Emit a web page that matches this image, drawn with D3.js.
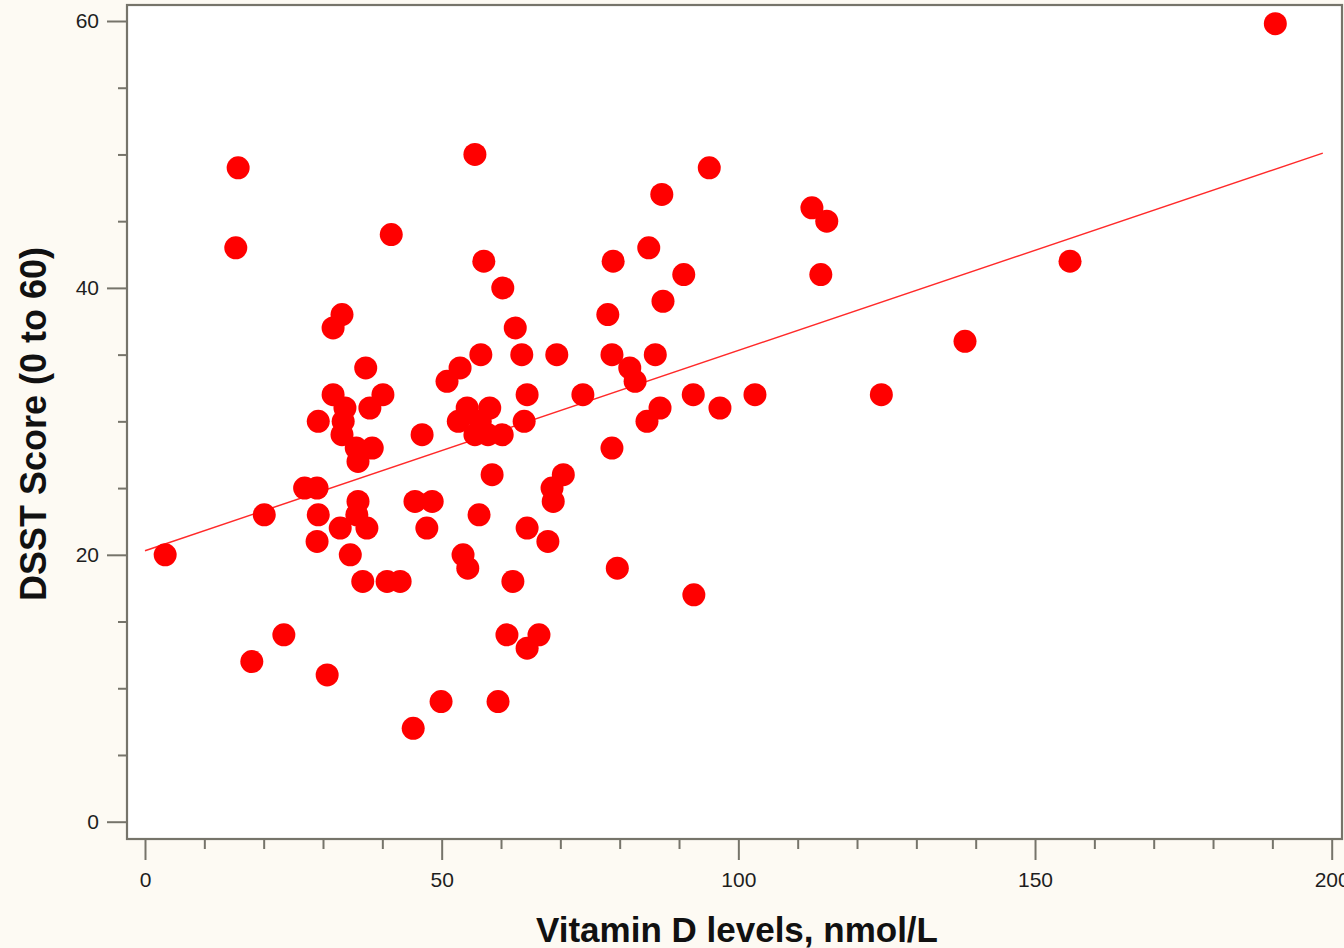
<!DOCTYPE html>
<html>
<head>
<meta charset="utf-8">
<script src="https://cdn.jsdelivr.net/npm/d3@7"></script>
<style>
  html, body { margin: 0; padding: 0; background: #fdfaf3; }
  svg { display: block; }
</style>
</head>
<body>
<svg id="chart" width="1344" height="948"></svg>
<script>
// Vitamin D (nmol/L) for each participant
const vitaminD = [
  3.4, 15.7, 15.3, 18.0, 20.1, 23.4, 26.9, 29.0, 29.2, 29.2,
  29.0, 30.7, 31.7, 33.2, 31.7, 33.7, 33.4, 33.2, 32.9, 34.6,
  35.6, 35.9, 35.9, 35.7, 36.7, 37.2, 37.9, 37.4, 38.3, 40.1,
  40.8, 41.5, 43.0, 45.2, 45.5, 46.7, 47.5, 48.4, 49.9, 50.9,
  53.1, 52.8, 53.6, 54.4, 54.3, 55.6, 55.6, 56.6, 57.1, 56.3,
  58.1, 56.5, 57.8, 58.5, 60.2, 59.5, 60.3, 61.0, 62.0, 62.4,
  63.5, 63.9, 64.4, 64.4, 64.4, 66.4, 67.9, 68.6, 68.8, 69.4,
  70.5, 73.8, 78.0, 78.9, 78.7, 78.7, 79.6, 81.7, 82.6, 84.6,
  84.9, 86.0, 86.8, 87.1, 87.3, 90.8, 92.4, 92.5, 95.1, 96.9,
  102.8, 112.4, 114.9, 113.9, 124.1, 138.2, 155.9, 190.5
];
// DSST score for the same participants
const dsstScore = [
  20, 49, 43, 12, 23, 14, 25, 25, 30, 23,
  21, 11, 37, 38, 32, 31, 30, 29, 22, 20,
  28, 27, 24, 23, 18, 34, 31, 22, 28, 32,
  18, 44, 18, 7, 24, 29, 22, 24, 9, 33,
  34, 30, 20, 19, 31, 50, 29, 35, 42, 23,
  31, 30, 29, 26, 29, 9, 40, 14, 18, 37,
  35, 30, 32, 22, 13, 14, 21, 25, 24, 35,
  26, 32, 38, 42, 35, 28, 19, 34, 33, 30,
  43, 35, 31, 47, 39, 41, 32, 17, 49, 31,
  32, 46, 45, 41, 32, 36, 42, 59.8
];
// Fitted regression line end points
const fitX = [0, 198.5];
const fitY = [20.3, 50.1];

const xMajorTicks = [0, 50, 100, 150, 200];
const yMajorTicks = [0, 20, 40, 60];
const xTitle = "Vitamin D levels, nmol/L";
const yTitle = "DSST Score (0 to 60)";

const svg = d3.select("#chart");
const frame = { left: 127, top: 5, right: 1342, bottom: 839 };
const axisColor = "#76746a";
const fontFamily = "'Liberation Sans', Arial, sans-serif";

const x = d3.scaleLinear().domain([0, 200]).range([145, 1331.7]);
const y = d3.scaleLinear().domain([0, 60]).range([821.7, 21]);

// plot area
svg.append("rect")
  .attr("x", frame.left).attr("y", frame.top)
  .attr("width", frame.right - frame.left).attr("height", frame.bottom - frame.top)
  .attr("fill", "#ffffff");

svg.append("clipPath").attr("id", "plotClip")
  .append("rect")
  .attr("x", frame.left).attr("y", frame.top)
  .attr("width", frame.right - frame.left).attr("height", frame.bottom - frame.top);

const plot = svg.append("g").attr("clip-path", "url(#plotClip)");

// regression line
plot.append("line")
  .attr("x1", x(fitX[0])).attr("y1", y(fitY[0]))
  .attr("x2", x(fitX[1])).attr("y2", y(fitY[1]))
  .attr("stroke", "#ff2a2a").attr("stroke-width", 1.5);

// data points
plot.selectAll("circle.pt")
  .data(d3.range(vitaminD.length))
  .join("circle")
  .attr("class", "pt")
  .attr("cx", i => x(vitaminD[i]))
  .attr("cy", i => y(dsstScore[i]))
  .attr("r", 11.5)
  .attr("fill", "#ff0000");

// frame
svg.append("rect")
  .attr("x", frame.left).attr("y", frame.top)
  .attr("width", frame.right - frame.left).attr("height", frame.bottom - frame.top)
  .attr("fill", "none").attr("stroke", axisColor).attr("stroke-width", 2.2);

// x axis (major + minor ticks)
const xMinor = d3.range(0, 201, 10).filter(v => !xMajorTicks.includes(v));
const xAxisG = svg.append("g").attr("transform", `translate(0,${frame.bottom})`);
xAxisG.call(d3.axisBottom(x).tickValues(xMinor).tickSize(10).tickFormat(""));
xAxisG.append("g").call(d3.axisBottom(x).tickValues(xMajorTicks).tickSize(21).tickPadding(12)
  .tickFormat(d3.format("d")));

// y axis (major + minor ticks)
const yMinor = d3.range(0, 61, 5).filter(v => !yMajorTicks.includes(v));
const yAxisG = svg.append("g").attr("transform", `translate(${frame.left},0)`);
yAxisG.call(d3.axisLeft(y).tickValues(yMinor).tickSize(9).tickFormat(""));
yAxisG.append("g").call(d3.axisLeft(y).tickValues(yMajorTicks).tickSize(20).tickPadding(8)
  .tickFormat(d3.format("d")));

svg.selectAll(".domain").remove();
svg.selectAll(".tick line").attr("stroke", axisColor).attr("stroke-width", 2);
svg.selectAll(".tick text")
  .attr("fill", "#1e1e1e")
  .style("font-family", fontFamily)
  .style("font-size", "21px");

// axis titles
svg.append("text")
  .attr("x", 737).attr("y", 942)
  .attr("text-anchor", "middle")
  .style("font-family", fontFamily)
  .style("font-weight", "bold").style("font-size", "35px")
  .attr("fill", "#111")
  .text(xTitle);

svg.append("text")
  .attr("transform", "translate(46,424) rotate(-90)")
  .attr("text-anchor", "middle")
  .style("font-family", fontFamily)
  .style("font-weight", "bold").style("font-size", "36px")
  .attr("fill", "#111")
  .text(yTitle);
</script>
</body>
</html>
